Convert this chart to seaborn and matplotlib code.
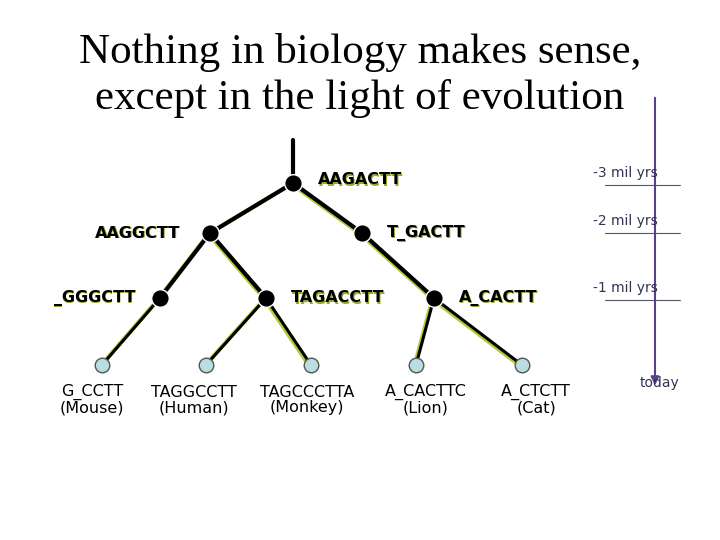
import matplotlib
matplotlib.use("Agg")
import matplotlib.pyplot as plt
import seaborn as sns
import pandas as pd

sns.set_theme(style="white")

node_names = ["root", "A", "B", "C", "D", "E", "L1", "L2", "L3", "L4", "L5"]
node_x = [293, 210, 362, 160, 266, 434, 102, 206, 311, 416, 522]
node_y = [183, 233, 233, 298, 298, 298, 365, 365, 365, 365, 365]
internal_labels = ["AAGACTT", "AAGGCTT", "T_GACTT", "_GGGCTT", "TAGACCTT", "A_CACTT"]
edges = [("root", "A"), ("root", "B"), ("A", "C"), ("A", "D"), ("C", "L1"),
         ("D", "L2"), ("D", "L3"), ("B", "E"), ("E", "L4"), ("E", "L5")]
leaf_seq = ["G_CCTT", "TAGGCCTT", "TAGCCCTTA", "A_CACTTC", "A_CTCTT"]
leaf_names = ["(Mouse)", "(Human)", "(Monkey)", "(Lion)", "(Cat)"]
time_labels = ["-3 mil yrs", "-2 mil yrs", "-1 mil yrs", "today"]
time_y = [185, 233, 300, 385]

fig = plt.figure(figsize=(7.2, 5.4), dpi=100)
ax = fig.add_axes([0, 0, 1, 1])

pos = dict(zip(node_names, zip(node_x, node_y)))
ax.plot([293, 293], [140, 183], color="black", lw=3, zorder=1)
for a, b in edges:
    (x1, y1), (x2, y2) = pos[a], pos[b]
    ax.plot([x1 - 1.5, x2 - 1.5], [y1 + 1, y2 + 1], color="#b5c93a", lw=3, zorder=1)
    ax.plot([x1, x2], [y1, y2], color="black", lw=3 if b[0] != "L" else 2.2, zorder=2)

df = pd.DataFrame({"x": node_x, "y": node_y,
                   "kind": ["internal"] * 6 + ["leaf"] * 5})
sns.scatterplot(data=df[df.kind == "internal"], x="x", y="y", ax=ax, s=160,
                color="black", zorder=3, legend=False)
sns.scatterplot(data=df[df.kind == "leaf"], x="x", y="y", ax=ax, s=110,
                color="#b9dde0", edgecolor="#555555", linewidth=1, zorder=3, legend=False)
ax.set_xlim(0, 720); ax.set_ylim(540, 0); ax.axis("off")

offsets = [(25, -3), (-30, 0), (25, 0), (-25, 0), (25, 0), (25, 0)]
aligns = ["left", "right", "left", "right", "left", "left"]
for i, lab in enumerate(internal_labels):
    x, y = node_x[i] + offsets[i][0], node_y[i] + offsets[i][1]
    ax.text(x + 1, y + 1, lab, ha=aligns[i], va="center", fontsize=11.5,
            color="#9aa82a", fontweight="bold")
    ax.text(x, y, lab, ha=aligns[i], va="center", fontsize=11.5, color="black",
            fontweight="bold")

leaf_dx = [-10, -12, -4, 10, 14]
for i in range(5):
    x = node_x[6 + i] + leaf_dx[i]
    ax.text(x, 400, leaf_seq[i] + "\n" + leaf_names[i], ha="center", va="center",
            fontsize=11.5, color="black", linespacing=1.05)

ax.annotate("", xy=(655, 388), xytext=(655, 95),
            arrowprops=dict(arrowstyle="-|>", color="#5a3f8a", lw=1.5))
for lab, ty in zip(time_labels[:3], time_y[:3]):
    ax.plot([605, 680], [ty, ty], color="#555566", lw=0.8)
    ax.text(658, ty - 12, lab, ha="right", va="center", fontsize=10, color="#333355")
ax.text(660, 383, time_labels[3], ha="center", va="center", fontsize=10, color="#333355")

fig.text(0.5, 0.86, "Nothing in biology makes sense,\nexcept in the light of evolution",
         ha="center", va="center", fontsize=31, color="black",
         family="Liberation Serif", linespacing=1.25)

fig.savefig("out.png", dpi=100)
